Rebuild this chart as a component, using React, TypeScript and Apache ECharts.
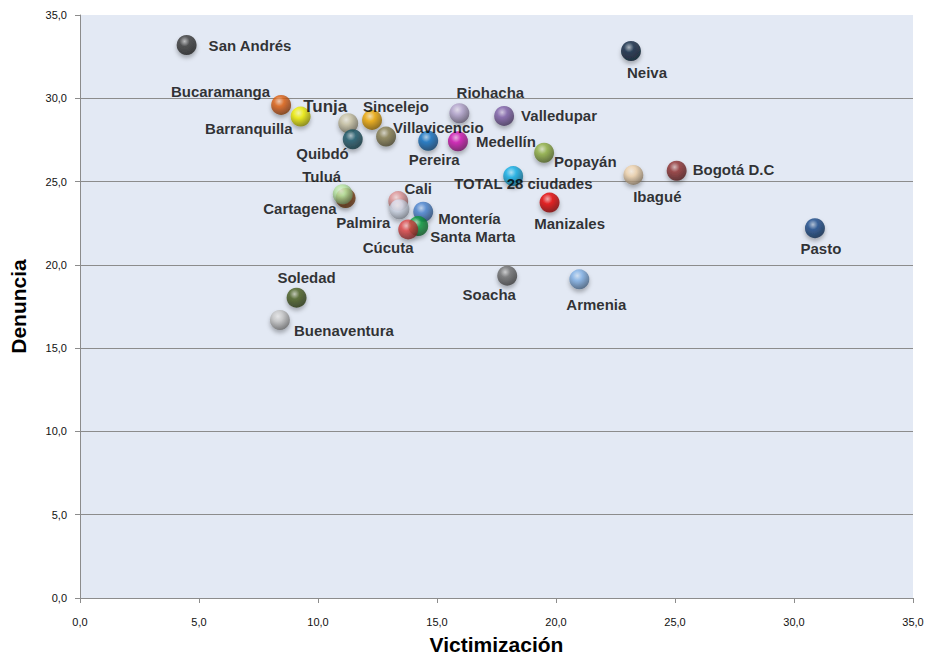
import React, { useEffect, useRef } from "react";
import * as echarts from "echarts";

const cities = [
  "San Andrés", "Bucaramanga", "Barranquilla", "Tunja", "Sincelejo", "Quibdó", "Villavicencio",
  "Pereira", "Medellín", "Riohacha", "Valledupar", "Popayán", "TOTAL 28 ciudades", "Ibagué",
  "Bogotá D.C", "Neiva", "Pasto", "Manizales", "Cartagena", "Tuluá", "Cali", "Palmira",
  "Montería", "Santa Marta", "Cúcuta", "Soacha", "Armenia", "Soledad", "Buenaventura",
];
const victimizacion = [
  4.48, 8.45, 9.27, 11.27, 12.27, 11.46, 12.86,
  14.63, 15.88, 15.94, 17.82, 19.5, 18.2, 23.25,
  25.07, 23.15, 30.88, 19.73, 11.16, 11.04, 13.37, 13.42,
  14.42, 14.21, 13.79, 17.95, 20.98, 9.1, 8.4,
];
const denuncia = [
  33.2, 29.6, 28.9, 28.5, 28.7, 27.54, 27.7,
  27.45, 27.42, 29.1, 28.94, 26.73, 25.33, 25.4,
  25.65, 32.84, 22.2, 23.74, 24.01, 24.24, 23.83, 23.34,
  23.19, 22.33, 22.13, 19.35, 19.13, 18.03, 16.69,
];
const yTicks = [0, 5, 10, 15, 20, 25, 30, 35];

// styles (not data)
const ballColors = [
  "#3a3a3a", "#e0600e", "#f2f000", "#c9c2a2", "#f0a800", "#1d5868", "#8a8050",
  "#0f6fc0", "#d010b0", "#b4a4cc", "#8060a8", "#90b040", "#10b0e8", "#f2d4ac",
  "#903030", "#0c2540", "#1a4a8a", "#e80000", "#a05010", "#b8e8a0", "#e09494", "#dde6f6",
  "#4a84d0", "#10a040", "#e04444", "#707070", "#82b2e8", "#4a6020", "#c8c8c8",
];
// label placement relative to ball centre: [dx, dy, align]
const labelPlace: [number, number, string][] = [
  [22, 1, "left"], [-11, -13, "right"], [-8, 12, "right"], [-1, -17, "right"], [-9, -13, "left"], [-4, 14, "right"], [7, -9, "left"],
  [6, 19, "center"], [18, 0, "left"], [31, -21, "center"], [17, 0, "left"], [10, 9, "left"], [-59, 7, "left"], [24, 22, "center"],
  [16, -1, "left"], [16, 22, "center"], [6, 20, "center"], [20, 21, "center"], [-9, 10, "right"], [-21, -18, "center"], [20, -13, "center"], [-9, 13, "right"],
  [15, 7, "left"], [12, 10, "left"], [-20, 18, "center"], [-18, 19, "center"], [17, 25, "center"], [10, -20, "center"], [14, 11, "left"],
];

function mix(hex: string, target: number, t: number): string {
  const n = parseInt(hex.slice(1), 16);
  const r = (n >> 16) & 255, g = (n >> 8) & 255, b = n & 255;
  const f = (c: number) => Math.round(c + (target - c) * t);
  return `rgb(${f(r)},${f(g)},${f(b)})`;
}

function ball(hex: string) {
  return {
    type: "radial",
    x: 0.4,
    y: 0.32,
    r: 0.72,
    colorStops: [
      { offset: 0, color: mix(hex, 255, 0.65) },
      { offset: 0.35, color: hex },
      { offset: 1, color: mix(hex, 0, 0.5) },
    ],
  };
}

const fmt = (v: number) => v.toFixed(1).replace(".", ",");
const SIZE = 20;
const FONT = "Liberation Sans, Arial, sans-serif";

export default function App() {
  const ref = useRef<HTMLDivElement>(null);
  useEffect(() => {
    document.body.style.margin = "0";
    const chart = echarts.init(ref.current!, null, { renderer: "svg" });
    const data = cities.map((name, i) => ({
      name,
      value: [victimizacion[i], denuncia[i]],
      itemStyle: {
        color: ball(ballColors[i]),
        shadowBlur: 4,
        shadowOffsetY: 3,
        shadowColor: "rgba(0,0,0,0.35)",
      },
      label: {
        show: true,
        formatter: name,
        position: [SIZE / 2 + labelPlace[i][0], SIZE / 2 + labelPlace[i][1]],
        align: labelPlace[i][2],
        verticalAlign: "middle",
        fontSize: name === "Tunja" ? 17 : 15,
        fontWeight: "bold",
        fontFamily: FONT,
        color: "#000",
        textBorderWidth: 0,
      },
    }));
    chart.setOption({
      animation: false,
      grid: {
        left: 80,
        top: 15,
        right: 13,
        bottom: 58,
        containLabel: false,
        outerBoundsMode: "none",
        show: true,
        backgroundColor: "#e3e9f4",
        borderWidth: 0,
      },
      xAxis: {
        type: "value",
        min: 0,
        max: 35,
        interval: 5,
        name: "Victimización",
        nameLocation: "middle",
        nameGap: 36,
        nameTextStyle: { fontSize: 21, fontWeight: "bold", color: "#000", fontFamily: FONT, verticalAlign: "top", lineHeight: 21 },
        axisLine: { show: true, lineStyle: { color: "#8c8c8c", width: 1 } },
        axisTick: { show: true, length: 5, lineStyle: { color: "#8c8c8c" } },
        axisLabel: { formatter: fmt, fontSize: 11, color: "#111", margin: 18, fontFamily: FONT },
        splitLine: { show: false },
      },
      yAxis: {
        type: "value",
        min: yTicks[0],
        max: yTicks[yTicks.length - 1],
        interval: 5,
        name: "Denuncia",
        nameLocation: "middle",
        nameGap: 51,
        nameTextStyle: { fontSize: 21, fontWeight: "bold", color: "#000", fontFamily: FONT },
        axisLine: { show: true, lineStyle: { color: "#8c8c8c", width: 1 } },
        axisTick: { show: true, length: 5, lineStyle: { color: "#8c8c8c" } },
        axisLabel: { formatter: fmt, fontSize: 11, color: "#111", margin: 13, fontFamily: FONT },
        splitLine: {
          show: true,
          lineStyle: {
            color: ["#8c8c8c", "#8c8c8c", "#8c8c8c", "#8c8c8c", "#8c8c8c", "#8c8c8c", "#8c8c8c", "rgba(0,0,0,0)"],
            width: 1,
          },
        },
      },
      series: [
        {
          type: "scatter",
          symbol: "circle",
          symbolSize: SIZE,
          data,
          labelLayout: { hideOverlap: false },
        },
      ],
    });
    return () => chart.dispose();
  }, []);
  return <div ref={ref} style={{ width: 926, height: 656 }} />;
}
